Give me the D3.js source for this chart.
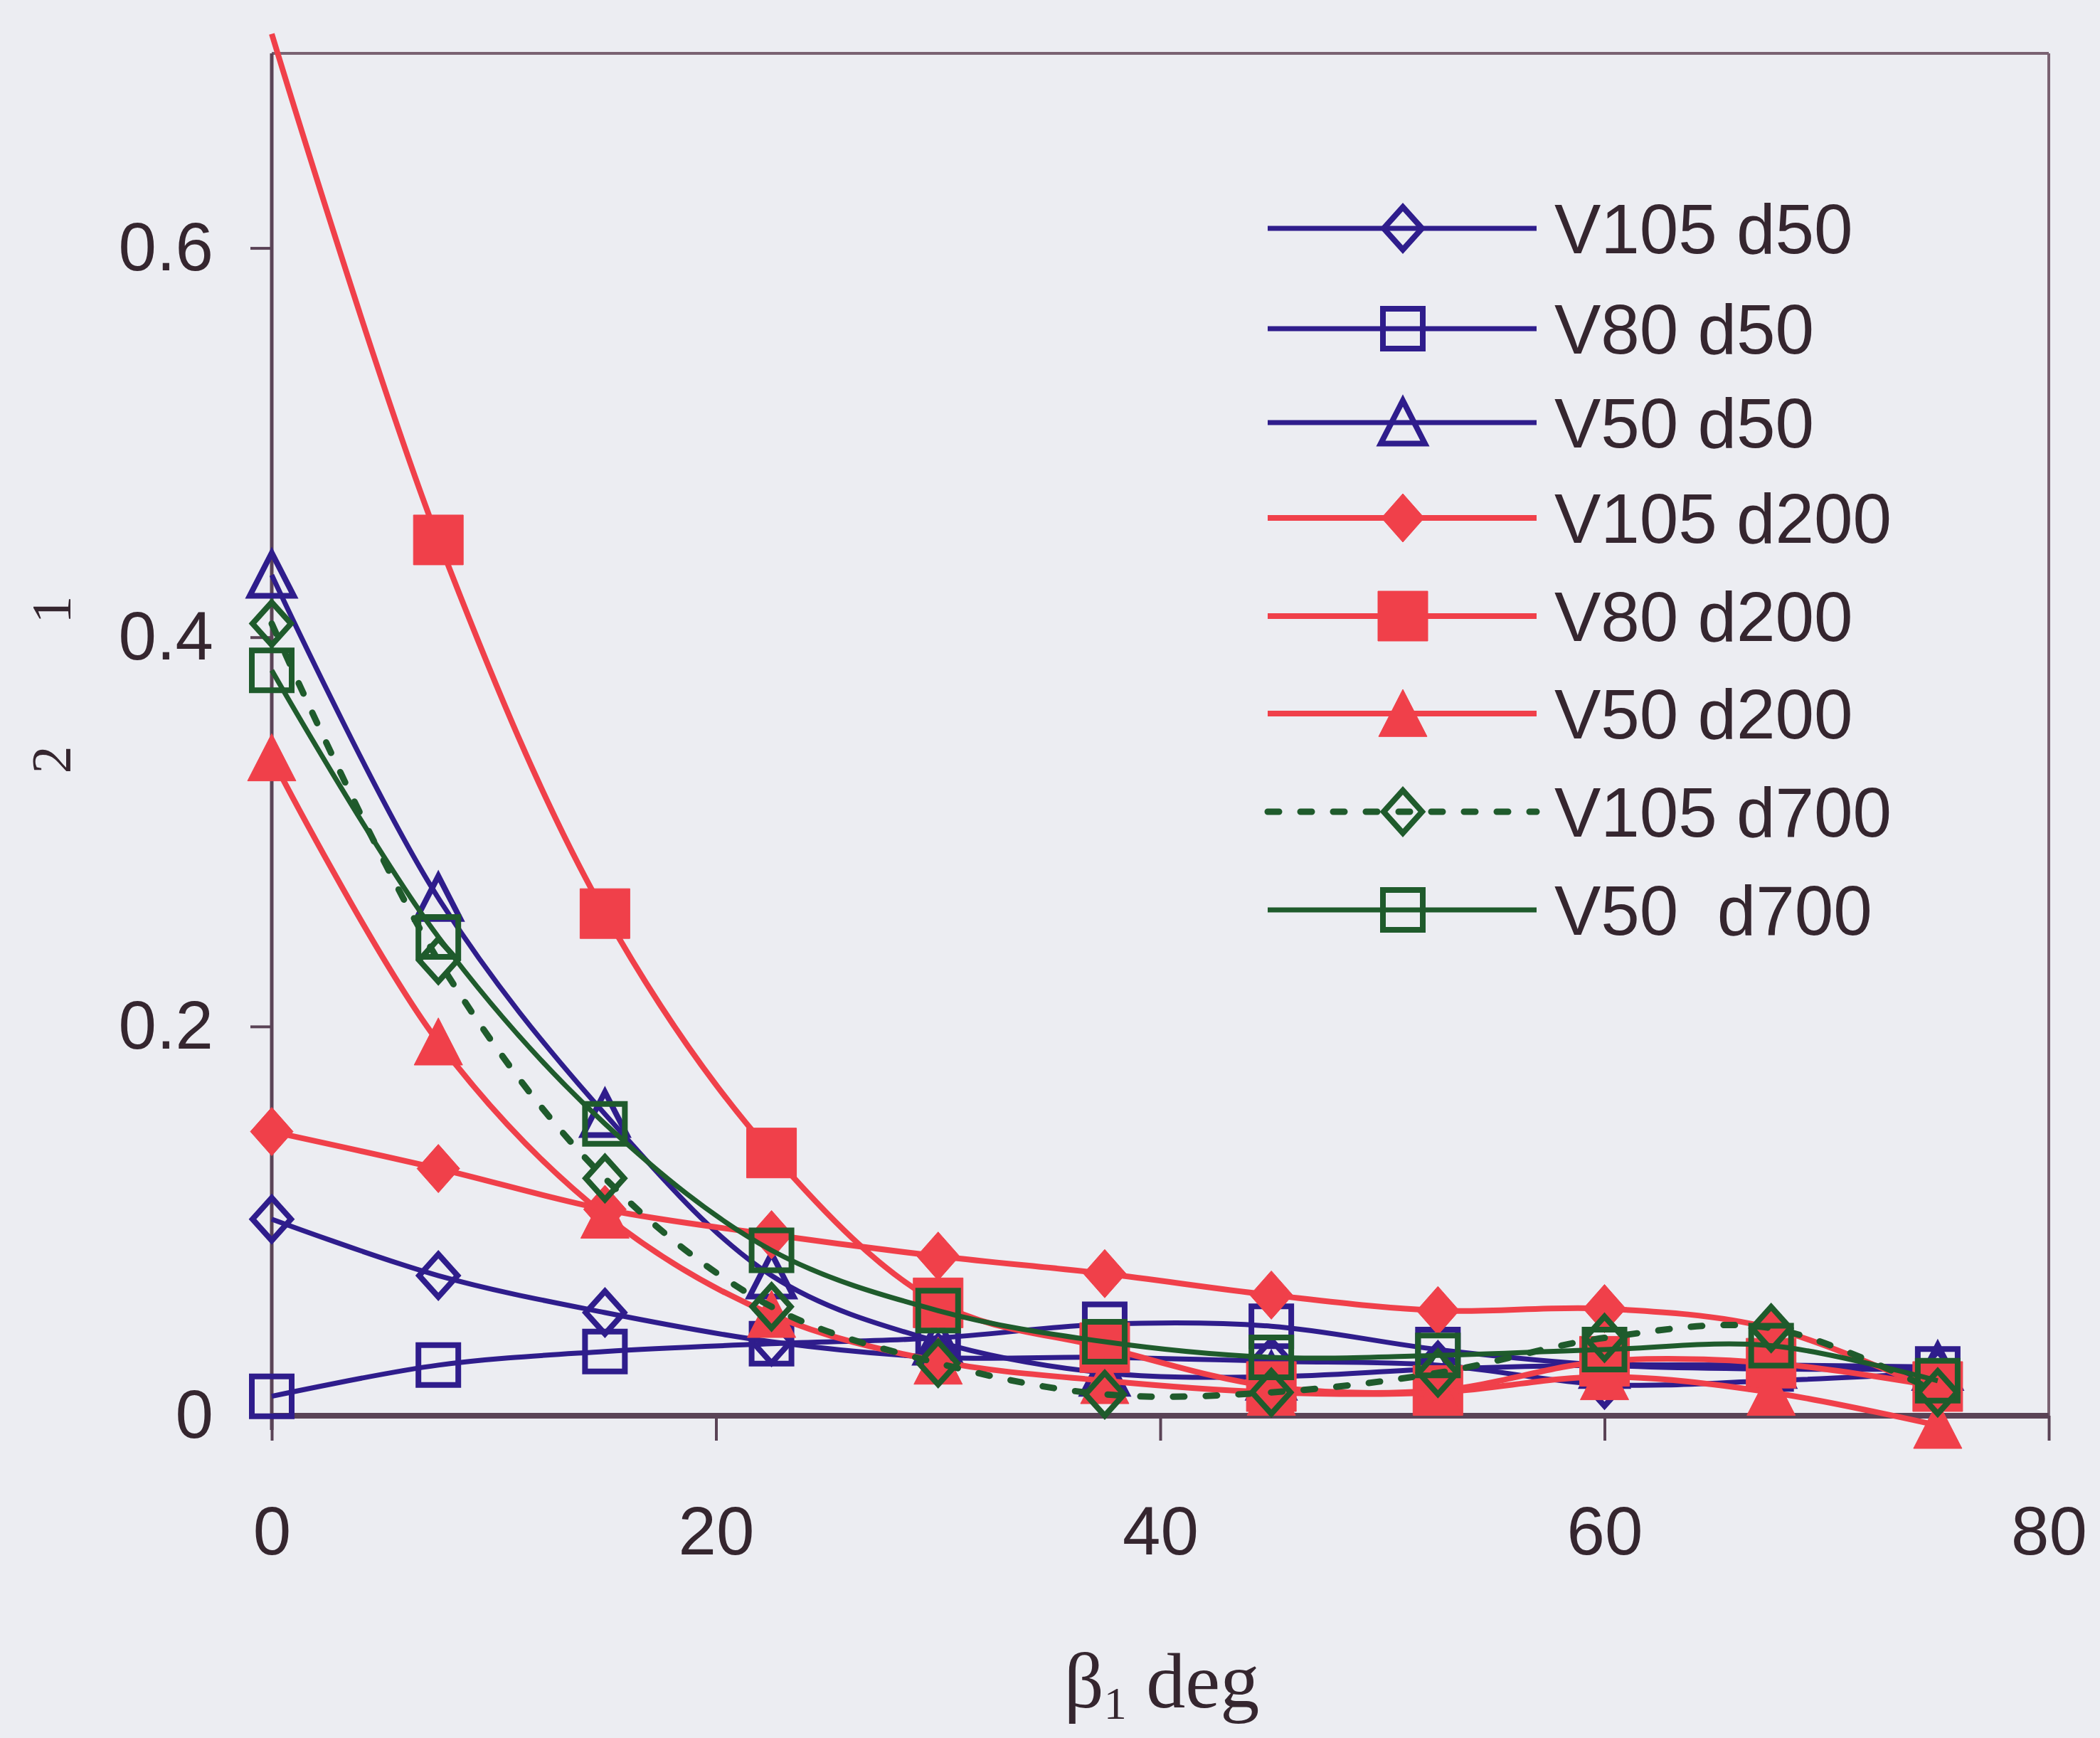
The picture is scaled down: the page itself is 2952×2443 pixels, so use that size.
<!DOCTYPE html>
<html>
<head>
<meta charset="utf-8">
<script src="https://cdn.jsdelivr.net/npm/d3@7"></script>
<style>
  html, body { margin: 0; padding: 0; background: #ECEDF2; }
  svg { display: block; }
</style>
</head>
<body>
<svg id="chart" width="2952" height="2443"></svg>
<script>
// ---------------- data ----------------
const betaDeg = [0, 7.5, 15, 22.5, 30, 37.5, 45, 52.5, 60, 67.5, 75];

const V105_d50  = [0.101, 0.072, 0.053, 0.038, 0.030, 0.030, 0.028, 0.026, 0.016, 0.018, 0.022];
const V80_d50   = [0.010, 0.026, 0.033, 0.037, 0.040, 0.047, 0.046, 0.034, 0.026, 0.024, 0.024];
const V50_d50   = [0.432, 0.266, 0.155, 0.072, 0.038, 0.022, 0.020, 0.024, 0.026, 0.026, 0.025];
const V105_d200 = [0.146, 0.127, 0.106, 0.093, 0.082, 0.073, 0.062, 0.054, 0.055, 0.045, 0.012];
const V80_d200  = [0.710, 0.450, 0.258, 0.135, 0.058, 0.035, 0.015, 0.013, 0.028, 0.027, 0.015];
const V50_d200  = [0.338, 0.192, 0.103, 0.052, 0.028, 0.018, 0.012, 0.012, 0.020, 0.012, -0.005];
const V105_d700 = [0.407, 0.234, 0.122, 0.056, 0.027, 0.011, 0.012, 0.022, 0.040, 0.045, 0.012];
const V50_d700  = [0.383, 0.246, 0.150, 0.085, 0.054, 0.038, 0.030, 0.031, 0.034, 0.036, 0.018];

const seriesNames = ["V105 d50", "V80 d50", "V50 d50", "V105 d200", "V80 d200", "V50 d200", "V105 d700", "V50\u00a0\u00a0d700"];
const seriesValues = [V105_d50, V80_d50, V50_d50, V105_d200, V80_d200, V50_d200, V105_d700, V50_d700];

const xTicks = [0, 20, 40, 60, 80];
const yTicks = [0, 0.2, 0.4, 0.6];
const xTitle = "β";
const xTitleSub = "1";
const xTitleRest = " deg";

// ---------------- styles ----------------
const NAVY = "#2f1d8c", RED = "#f0404a", GREEN = "#1f5b2c";
const styles = [
  {color: NAVY,  shape: "diamond",  filled: false, dash: null, width: 7},
  {color: NAVY,  shape: "square",   filled: false, dash: null, width: 7},
  {color: NAVY,  shape: "triangle", filled: false, dash: null, width: 7},
  {color: RED,   shape: "diamond",  filled: true,  dash: null, width: 8},
  {color: RED,   shape: "square",   filled: true,  dash: null, width: 8},
  {color: RED,   shape: "triangle", filled: true,  dash: null, width: 8},
  {color: GREEN, shape: "diamond",  filled: false, dash: "16,30", width: 9},
  {color: GREEN, shape: "square",   filled: false, dash: null, width: 7}
];

const svg = d3.select("#chart");
svg.append("rect").attr("width", 2952).attr("height", 2443).attr("fill", "#ECEDF2");

const x = d3.scaleLinear().domain([0, 80]).range([382, 2880]);
const y = d3.scaleLinear().domain([0, 0.7]).range([1990, 75]);

const FRAME = "#5a4356";
const TEXT = "#35262f";

// frame (top & right lighter)
svg.append("line").attr("x1", x(0)).attr("x2", x(80)).attr("y1", y(0.7)).attr("y2", y(0.7))
  .attr("stroke", "#7a6272").attr("stroke-width", 4);
svg.append("line").attr("x1", x(80)).attr("x2", x(80)).attr("y1", y(0.7)).attr("y2", y(0))
  .attr("stroke", "#7a6272").attr("stroke-width", 4);

// axes
const yAxis = d3.axisLeft(y).tickValues(yTicks).tickSize(30).tickPadding(52)
  .tickFormat(d => d === 0 ? "0" : d.toFixed(1));
const gy = svg.append("g").attr("transform", `translate(${x(0)},0)`).call(yAxis);
const xAxis = d3.axisBottom(x).tickValues(xTicks).tickSize(35).tickPadding(92)
  .tickFormat(d3.format("d"));
const gx = svg.append("g").attr("transform", `translate(0,${y(0)})`).call(xAxis);

[gx, gy].forEach(g => {
  g.select(".domain").remove();
  g.selectAll(".tick line").attr("stroke", FRAME).attr("stroke-width", 4);
  g.selectAll(".tick text").attr("fill", TEXT)
    .style("font-family", "'Liberation Sans', Arial, sans-serif").style("font-size", "96px");
});
// axis lines
svg.append("line").attr("x1", x(0)).attr("x2", x(0)).attr("y1", y(0.7)).attr("y2", y(0) + 20)
  .attr("stroke", FRAME).attr("stroke-width", 5);
svg.append("line").attr("x1", x(0)).attr("x2", x(80)).attr("y1", y(0)).attr("y2", y(0))
  .attr("stroke", FRAME).attr("stroke-width", 8);

// ---------------- markers ----------------
function markerPath(shape, filled) {
  if (shape === "diamond") { const w = filled ? 30 : 27, h = filled ? 34 : 30;
    return `M0,${-h}L${w},0L0,${h}L${-w},0Z`; }
  if (shape === "square") { const s = filled ? 35 : 28;
    return `M${-s},${-s}H${s}V${s}H${-s}Z`; }
  const s = filled ? 34 : 31;
  return `M0,${-s}L${s},${s * 0.95}H${-s}Z`;
}
function drawMarker(g, st, cx, cy) {
  g.append("path").attr("d", markerPath(st.shape, st.filled))
    .attr("transform", `translate(${cx},${cy})`)
    .attr("fill", st.filled ? st.color : "none")
    .attr("stroke", st.color)
    .attr("stroke-width", st.filled ? 1 : 8)
    .attr("stroke-linejoin", "miter");
}

// ---------------- series ----------------
const line = d3.line().x(d => x(d[0])).y(d => y(d[1])).curve(d3.curveCatmullRom.alpha(0.5));
const yMax = y.domain()[1];
seriesValues.forEach((vals, i) => {
  const st = styles[i];
  const pts = betaDeg.map((b, j) => [b, vals[j]]);
  const g = svg.append("g").attr("class", "series");
  g.append("path").attr("d", line(pts)).attr("fill", "none")
    .attr("stroke", st.color).attr("stroke-width", st.width)
    .attr("stroke-dasharray", st.dash).attr("stroke-linecap", st.dash ? "round" : "butt");
  // markers outside the plot area are not drawn (as in the original chart)
  pts.filter(p => p[1] <= yMax).forEach(p => drawMarker(g, st, x(p[0]), y(p[1])));
});

// ---------------- legend ----------------
const legendRowsY = [321, 462, 594, 728, 866, 1003, 1141, 1279];
const lg = svg.append("g").attr("class", "legend");
seriesNames.forEach((name, i) => {
  const st = styles[i];
  const ly = legendRowsY[i];
  lg.append("line").attr("x1", 1782).attr("x2", 2160).attr("y1", ly).attr("y2", ly)
    .attr("stroke", st.color).attr("stroke-width", st.width)
    .attr("stroke-dasharray", st.dash).attr("stroke-linecap", st.dash ? "round" : "butt");
  drawMarker(lg, st, 1972, ly);
  lg.append("text").attr("x", 2185).attr("y", ly + 35).text(name)
    .attr("fill", TEXT).style("white-space", "pre")
    .style("font-family", "'Liberation Sans', Arial, sans-serif").style("font-size", "98px");
});

// ---------------- titles ----------------
const xt = svg.append("text").attr("x", 1633).attr("y", 2400).attr("text-anchor", "middle")
  .attr("fill", TEXT).style("font-family", "'Liberation Serif', 'Times New Roman', serif")
  .style("font-size", "110px");
xt.append("tspan").text(xTitle);
xt.append("tspan").attr("dy", 16).style("font-size", "64px").text(xTitleSub);
xt.append("tspan").attr("dy", -16).text(xTitleRest);

svg.append("text").attr("transform", "translate(98,857) rotate(-90)").attr("text-anchor", "middle")
  .attr("fill", TEXT).style("font-family", "'Liberation Serif', serif").style("font-size", "78px").text("1");
svg.append("text").attr("transform", "translate(98,1068) rotate(-90)").attr("text-anchor", "middle")
  .attr("fill", TEXT).style("font-family", "'Liberation Serif', serif").style("font-size", "78px").text("2");
</script>
</body>
</html>
